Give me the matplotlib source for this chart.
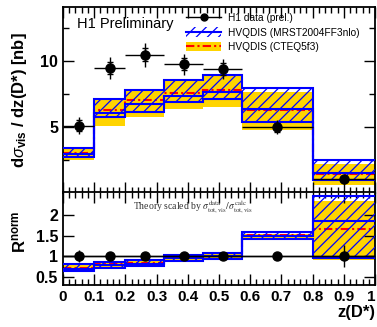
import numpy as np
import matplotlib
matplotlib.use("Agg")
from matplotlib import pyplot as plt
from matplotlib.patches import Patch
from matplotlib.lines import Line2D
from matplotlib.ticker import MultipleLocator

plt.rcParams['font.family'] = ['Liberation Sans', 'DejaVu Sans']
plt.rcParams['mathtext.fontset'] = 'custom'
plt.rcParams['mathtext.rm'] = 'Liberation Sans'
plt.rcParams['mathtext.bf'] = 'Liberation Sans:bold'
plt.rcParams['mathtext.it'] = 'Liberation Sans:italic'
plt.rcParams['hatch.linewidth'] = 0.9

# bins in z(D*)
edges = np.array([0, 0.1, 0.2, 0.325, 0.45, 0.575, 0.8, 1.0])

# H1 data (prel.)
data_z = [0.05, 0.15, 0.263, 0.388, 0.512, 0.687, 0.9]
data_y = [5.1, 9.45, 10.45, 9.75, 9.35, 4.98, 1.06]
data_stat = [0.4, 0.45, 0.5, 0.45, 0.45, 0.35, 0.07]
data_tot = [0.65, 0.85, 0.9, 0.8, 0.75, 0.55, 0.12]

# HVQDIS (MRST2004FF3nlo)
mrst_up = np.array([3.41, 7.1, 7.78, 8.57, 8.92, 7.98, 2.53])
mrst_c = np.array([2.92, 6.02, 6.72, 7.3, 7.65, 6.39, 1.54])
mrst_lo = np.array([2.75, 5.76, 6.14, 6.9, 7.1, 5.38, 0.96])

# HVQDIS (CTEQ5f3)
cteq_up = np.array([3.3, 7.0, 7.7, 8.5, 8.85, 7.65, 2.22])
cteq_c = np.array([3.05, 6.27, 7.02, 7.6, 7.8, 6.3, 1.47])
cteq_lo = np.array([2.5, 5.05, 5.76, 6.39, 6.5, 4.8, 0.58])

# normalised ratios
ratio_err = [0.14, 0.05, 0.04, 0.04, 0.04, 0.06, 0.27]
rm_up = np.array([0.8, 0.86, 0.9, 1.04, 1.08, 1.6, 2.47])
rm_c = np.array([0.7, 0.78, 0.82, 0.95, 1.0, 1.5, 1.85])
rm_lo = np.array([0.64, 0.72, 0.76, 0.88, 0.94, 1.42, 0.96])
rc_up = np.array([0.78, 0.84, 0.88, 1.0, 1.05, 1.54, 2.33])
rc_c = np.array([0.72, 0.8, 0.83, 0.97, 1.0, 1.51, 1.66])
rc_lo = np.array([0.68, 0.74, 0.78, 0.9, 0.95, 1.4, 0.9])

YELLOW = '#ffd400'
BLUE = '#0000ff'
RED = '#ff0000'
DASHDOT = (0, (4, 1.5, 1, 1.5))

fig = plt.figure(figsize=(3.77, 3.27), dpi=100)
ax = fig.add_axes([63/377, 1-193/327, 312/377, 186/327])
axr = fig.add_axes([63/377, 1-285/327, 312/377, 93/327])


def draw_theory(a, m_up, m_c, m_lo, c_up, c_c, c_lo):
    w = np.diff(edges)
    a.bar(edges[:-1], c_up-c_lo, width=w, bottom=c_lo, align='edge',
          color=YELLOW, linewidth=0, zorder=1)
    a.stairs(c_c, edges, baseline=None, color=RED, lw=1.5, ls=DASHDOT, zorder=2)
    a.bar(edges[:-1], m_up-m_lo, width=w, bottom=m_lo, align='edge',
          facecolor='none', edgecolor=BLUE, hatch='///', linewidth=0, zorder=3)
    for v in (m_up, m_c, m_lo):
        a.stairs(v, edges, baseline=None, color=BLUE, lw=1.5, zorder=4)


def draw_data(a, y, stat, tot):
    xerr = [np.array(data_z)-edges[:-1], edges[1:]-np.array(data_z)]
    a.errorbar(data_z, y, xerr=xerr, yerr=tot, fmt='o', color='black',
               ms=6.5, lw=1, capsize=0, zorder=6)
    if stat is not None:
        a.errorbar(data_z, y, yerr=stat, fmt='none', ecolor='black',
                   lw=1, capsize=2, zorder=6)


draw_theory(ax, mrst_up, mrst_c, mrst_lo, cteq_up, cteq_c, cteq_lo)
draw_data(ax, data_y, data_stat, data_tot)

draw_theory(axr, rm_up, rm_c, rm_lo, rc_up, rc_c, rc_lo)
draw_data(axr, [1]*7, None, ratio_err)

for a in (ax, axr):
    a.set_xlim(0, 1)
    a.xaxis.set_major_locator(MultipleLocator(0.1))
    a.xaxis.set_minor_locator(MultipleLocator(0.02))
    a.tick_params(which='both', direction='in', top=True, right=True, width=1)
    a.tick_params(which='major', length=8)
    a.tick_params(which='minor', length=4)
    for s in a.spines.values():
        s.set_linewidth(1.3)

ax.set_ylim(0, 14.07)
ax.yaxis.set_minor_locator(MultipleLocator(2.5))
ax.set_yticks([5, 10])
ax.set_yticklabels(['5', '10'], fontsize=11.5, fontweight='bold')
ax.set_xticklabels([])

axr.set_ylim(0.3, 2.56)
axr.set_yticks([0.5, 1, 1.5, 2])
axr.set_yticklabels(['0.5', '1', '1.5', '2'], fontsize=11.5, fontweight='bold')
axr.set_xticks(np.arange(0, 1.01, 0.1))
xlabs = axr.set_xticklabels(['0', '0.1', '0.2', '0.3', '0.4', '0.5', '0.6', '0.7', '0.8', '0.9', '1'],
                            fontsize=11, fontweight='bold')
xlabs[-1].set_horizontalalignment('right')
axr.axhline(1, color='black', lw=1, zorder=5)

fig.text(20/377, 1-100/327, r'd$\sigma_{\mathbf{vis}}$ / dz(D*) [nb]', rotation=90,
         ha='center', va='center', fontsize=12, fontweight='bold')
fig.text(20/377, 1-232/327, r'R$^{\mathbf{norm}}$', rotation=90,
         ha='center', va='center', fontsize=12, fontweight='bold')
fig.text(375/377, 1-312/327, 'z(D*)', ha='right', va='center', fontsize=12, fontweight='bold')

ax.text((77-63)/312, 1-(24-7)/186, 'H1 Preliminary', transform=ax.transAxes,
        ha='left', va='center', fontsize=10.5)

axr.text((133-63)/312, 1-(207-192)/93,
         r'Theory scaled by $\sigma^{\rm data}_{\rm tot,vis}/\sigma^{\rm calc}_{\rm tot,vis}$',
         transform=axr.transAxes, ha='left', va='center', fontsize=7,
         family='Liberation Serif', math_fontfamily='stix', color='#333333')

h_data = Line2D([], [], color='black', marker='o', ms=5, lw=1)
h_mrst = (Patch(facecolor='white', edgecolor=BLUE, hatch='///', lw=0),
          Line2D([], [], color=BLUE, lw=1.5))
h_cteq = (Patch(facecolor=YELLOW, lw=0),
          Line2D([], [], color=RED, lw=1.5, ls=DASHDOT))
ax.legend([h_data, h_mrst, h_cteq],
          ['H1 data (prel.)', 'HVQDIS (MRST2004FF3nlo)', 'HVQDIS (CTEQ5f3)'],
          loc='upper left', bbox_to_anchor=((186-63)/312, 1-6/186), frameon=False,
          fontsize=7.3, handlelength=3.5, handleheight=1.1, handletextpad=0.6,
          labelspacing=0.4, borderaxespad=0, borderpad=0)

fig.savefig('out.png', dpi=100)
